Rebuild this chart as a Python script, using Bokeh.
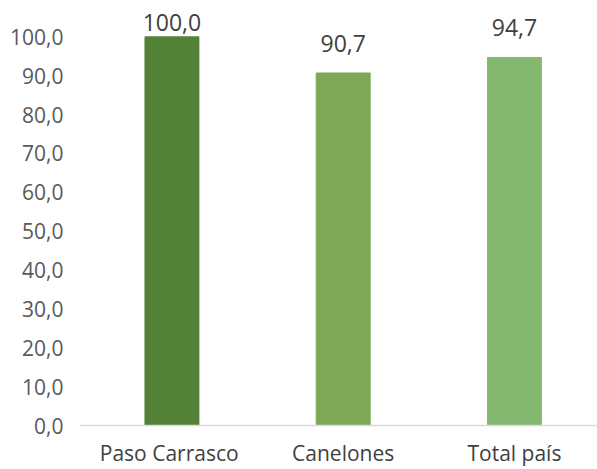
from bokeh.plotting import figure
from bokeh.models import Range1d, ColumnDataSource, FixedTicker
from bokeh.core.properties import value
from bokeh.embed import file_html
from bokeh.resources import INLINE

categories = ["Paso  Carrasco", "Canelones", "Total país"]
values = [100.0, 90.7, 94.7]
colors = ["#538135", "#7EA756", "#84B870"]
y_ticks = [0, 10, 20, 30, 40, 50, 60, 70, 80, 90, 100]
y_tick_labels = ["0,0", "10,0", "20,0", "30,0", "40,0", "50,0", "60,0", "70,0", "80,0", "90,0", "100,0"]

xs = list(range(len(categories)))
labels = [f"{v:.1f}".replace(".", ",") for v in values]
label_y = [min(v + 7.6, 103.6) for v in values]

src = ColumnDataSource(dict(x=xs, top=values, color=colors, label=labels, ly=label_y))

p = figure(width=597, height=469, output_backend="svg", toolbar_location=None,
           x_range=Range1d(-0.534, 2.485), y_range=Range1d(0, 109.35),
           min_border_left=80, min_border_right=0, min_border_top=0, min_border_bottom=42)
p.outline_line_color = None
p.background_fill_color = "white"
p.border_fill_color = "white"
p.xgrid.visible = False
p.ygrid.visible = False

p.vbar(x="x", top="top", bottom=0, width=0.315, color="color", source=src)
p.text(x="x", y="ly", text="label", source=src, text_align="center", text_baseline="middle",
       text_font=value("Open Sans"), text_font_size="23px", text_color="#404040")

p.yaxis.ticker = FixedTicker(ticks=y_ticks)
p.yaxis.major_label_overrides = {t: l for t, l in zip(y_ticks, y_tick_labels)}
p.yaxis.axis_line_color = None
p.yaxis.major_tick_line_color = None
p.yaxis.minor_tick_line_color = None
p.yaxis.major_label_standoff = 11
p.yaxis.major_label_text_font = "Open Sans"
p.yaxis.major_label_text_font_size = "21px"
p.yaxis.major_label_text_color = "#595959"

p.xaxis.ticker = FixedTicker(ticks=xs)
p.xaxis.major_label_overrides = {i: c for i, c in zip(xs, categories)}
p.xaxis.axis_line_color = "#D9D9D9"
p.xaxis.axis_line_width = 1.5
p.xaxis.major_tick_line_color = None
p.xaxis.minor_tick_line_color = None
p.xaxis.major_tick_out = 0
p.xaxis.major_tick_in = 0
p.xaxis.major_label_standoff = 13
p.xaxis.major_label_text_font = "Open Sans"
p.xaxis.major_label_text_font_size = "21px"
p.xaxis.major_label_text_color = "#404040"

open("out.html", "w").write(file_html(p, INLINE))
